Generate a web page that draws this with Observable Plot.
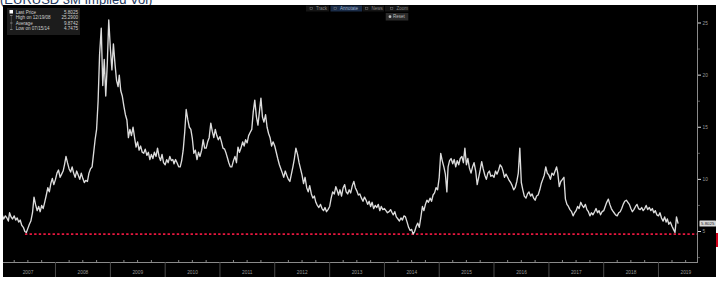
<!DOCTYPE html>
<html><head><meta charset="utf-8">
<script src="https://cdn.jsdelivr.net/npm/d3@7"></script>
<script src="https://cdn.jsdelivr.net/npm/@observablehq/plot@0.6"></script>
<style>
html,body{margin:0;padding:0;background:#fff;width:727px;height:284px;overflow:hidden;font-family:"Liberation Sans",Arial,sans-serif}
#wrap{position:relative;width:727px;height:284px;overflow:hidden}
#title{position:absolute;left:0;top:-7px;font-size:13px;line-height:13px;color:#24385e;white-space:nowrap}
#chart{position:absolute;left:3px;top:5px;width:713px;height:272px}
#overlay{position:absolute;left:0;top:0;pointer-events:none}
</style></head><body>
<div id="wrap">
  <div id="title">(EURUSD 3M Implied Vol)</div>
  <div id="chart"></div>
  <svg id="overlay" width="727" height="284"></svg>
</div>
<script>
// ---- data: EURUSD 3M implied vol, sampled on the 1st, 11th and 21st of each month ----
const sampleDays = [1, 11, 21];
const y2007 = [6.4,6.6,6.2, 6.5,6.3,6.0, 6.8,6.4,6.2, 6.5,6.1,6.3, 5.9,6.1,5.6, 5.4,5.0,4.9, 5.3,5.7,6.0, 6.8,8.3,7.6, 7.0,7.4,6.9, 7.5,7.2,7.8, 8.5,9.2,8.8, 9.6,10.1,9.5];
const y2008 = [10.0,10.6,10.9, 10.2,10.5,10.8, 11.4,12.2,11.6, 11.0,10.7,11.2, 10.6,10.2,10.8, 10.4,10.0,10.6, 10.1,9.7,9.9, 9.8,10.6,11.0, 11.2,12.5,13.8, 14.8,17.5,22.0, 24.5,19.0,21.5, 18.0,21.0,25.29];
const y2009 = [22.5,20.5,23.0, 21.0,19.5,18.9, 20.0,18.5,18.0, 17.0,16.2,15.7, 14.0,14.8,14.2, 15.0,14.0,13.1, 13.6,12.8,13.2, 12.6,12.5,12.9, 12.3,12.6,11.9, 12.4,12.0,12.6, 12.2,13.0,12.2, 11.8,12.4,11.6];
const y2010 = [11.4,11.9,11.6, 12.2,11.8,11.9, 11.5,11.9,11.6, 11.2,11.2,11.8, 12.8,14.5,16.7, 15.7,15.0,14.8, 13.9,12.5,12.8, 11.9,12.6,12.2, 12.8,13.8,13.0, 13.0,13.6,14.0, 15.4,14.6,14.0, 14.8,14.2,13.8];
const y2011 = [14.1,13.6,13.0, 12.9,12.5,12.0, 11.6,11.2,11.2, 11.8,12.2,11.6, 13.1,12.6,13.0, 13.6,13.2,13.8, 13.5,14.2,14.5, 14.8,16.5,17.6, 16.0,15.2,16.5, 17.8,16.0,15.5, 16.2,15.0,14.4, 14.0,13.2,13.6];
const y2012 = [13.2,12.6,12.0, 11.4,11.0,10.6, 10.2,10.8,10.4, 10.0,9.8,10.5, 11.2,12.0,13.0, 12.4,11.6,11.0, 10.4,9.6,10.2, 9.2,8.8,9.4, 8.6,8.2,8.4, 7.8,7.5,7.3, 7.6,7.2,7.0, 7.3,6.9,7.1];
const y2013 = [7.4,8.2,8.8, 8.6,9.3,8.9, 8.5,9.0,8.4, 9.2,9.5,8.8, 8.6,9.0,8.7, 9.4,9.8,9.2, 8.9,8.5,8.6, 8.2,7.9,8.3, 8.0,7.6,7.9, 7.4,7.8,7.2, 7.5,7.3,7.6, 7.0,7.4,7.1];
const y2014 = [7.2,7.0,6.8, 6.9,7.1,6.8, 6.6,6.9,6.4, 6.2,6.0,6.3, 6.1,6.5,6.4, 5.9,5.4,5.1, 5.2,4.7475,5.0, 5.5,5.8,5.4, 6.4,7.4,7.0, 7.6,8.0,7.8, 8.2,7.9,8.5, 8.7,9.2,9.0];
const y2015 = [10.2,12.5,11.8, 11.2,10.5,8.8, 11.2,11.8,12.0, 11.5,11.9,11.2, 11.8,11.4,12.0, 12.2,11.6,13.0, 11.4,12.0,11.1, 10.6,11.2,11.6, 10.8,9.5,10.2, 10.9,11.7,11.0, 10.4,10.0,10.6, 10.8,10.3,10.4];
const y2016 = [10.2,10.8,10.5, 10.9,11.4,11.2, 10.8,10.2,10.5, 10.2,9.9,9.7, 9.4,9.0,9.2, 9.8,10.6,13.0, 9.7,9.0,8.4, 8.2,8.6,8.8, 8.4,8.6,8.2, 8.0,8.4,8.5, 9.0,9.6,10.0, 10.4,11.2,10.6];
const y2017 = [10.4,10.0,10.6, 10.4,10.8,11.2, 10.6,9.3,9.8, 10.0,10.2,8.1, 7.6,7.4,7.1, 6.9,6.5,6.8, 7.0,7.4,7.2, 7.8,7.5,7.3, 7.6,7.1,6.9, 6.5,6.8,6.6, 6.9,7.2,6.8, 7.0,6.6,6.9];
const y2018 = [7.0,7.4,7.8, 8.1,7.6,7.2, 7.0,6.8,6.6, 6.5,6.8,6.9, 7.2,7.6,7.9, 8.0,7.8,7.6, 7.2,6.9,7.1, 7.4,7.6,7.2, 7.1,7.3,7.0, 7.2,7.5,7.1, 7.3,7.0,7.2, 6.8,7.0,6.6];
const y2019 = [6.5,6.8,6.3, 6.0,6.4,5.9, 6.2,5.7,5.9, 5.5,5.2,4.9, 6.4,5.8025];

// legend / statistics
const legendLabels = ["Last Price", "High on 12/19/08", "Average", "Low on 07/15/14"];
const legendValues = ["5.8025", "25.2900", "9.8742", "4.7475"];
const lastPrice = 5.8025;
const lowValue = 4.7475;
const lowLineStart = "2007-06-15";

// tick labels
const yTicks = [5, 10, 15, 20, 25];
const yMinorTicks = [2.5, 7.5, 12.5, 17.5, 22.5];
const yearLabels = [2007, 2008, 2009, 2010, 2011, 2012, 2013, 2014, 2015, 2016, 2017, 2018, 2019];
const toolbarButtons = ["Track", "Annotate", "News", "Zoom"];

// ---- build table ----
const seriesByYear = [[2007,y2007],[2008,y2008],[2009,y2009],[2010,y2010],[2011,y2011],[2012,y2012],[2013,y2013],[2014,y2014],[2015,y2015],[2016,y2016],[2017,y2017],[2018,y2018],[2019,y2019]];
const data = seriesByYear.flatMap(([yr, vals]) => vals.map((v, i) => ({
  date: new Date(Date.UTC(yr, Math.floor(i / 3), sampleDays[i % 3])), value: v
})));

const xStart = new Date(Date.UTC(2007, 0, 1));
const xEnd = new Date(Date.UTC(2019, 8, 18));
const yearStarts = yearLabels.slice(1).map(y => new Date(Date.UTC(y, 0, 1)));
const yearMids = yearLabels.map(y => new Date(Date.UTC(y, 6, 2)));
const quarterDates = yearLabels.flatMap(y => [3, 6, 9].map(m => new Date(Date.UTC(y, m, 1)))).filter(d => d < xEnd);

const chart = Plot.plot({
  width: 713, height: 272,
  marginTop: 0, marginRight: 19, marginBottom: 15, marginLeft: 0,
  style: {background: "#000", color: "#999", fontFamily: "Liberation Sans, Arial, sans-serif", fontSize: "4.8px", overflow: "hidden"},
  x: {type: "utc", domain: [xStart, xEnd], range: [-2.8, 694]},
  y: {type: "linear", domain: [5, 25], range: [226, 17.5]},
  marks: [
    Plot.frame({anchor: "bottom", stroke: "#8a8a8a"}),
    Plot.ruleX([xEnd], {stroke: "#8a8a8a"}),
    Plot.axisX(yearStarts, {anchor: "bottom", tickSize: 15, tickFormat: () => "", color: "#4a4a4a", label: null}),
    Plot.axisX(quarterDates, {anchor: "bottom", tickSize: -2, tickFormat: () => "", color: "#888", label: null}),
    Plot.axisX(yearMids, {anchor: "bottom", tickSize: 0, tickPadding: 8, tickFormat: d => String(d.getUTCFullYear()), color: "#9a9a9a", label: null}),
    Plot.axisY(yMinorTicks, {anchor: "right", tickSize: 2, tickFormat: () => "", color: "#555", label: null}),
    Plot.axisY(yTicks, {anchor: "right", tickSize: 3, tickFormat: () => "", color: "#ddd", label: null}),
    Plot.axisY(yTicks, {anchor: "right", tickSize: 0, tickPadding: 5, color: "#9a9a9a", label: null}),
    Plot.ruleY([lowValue], {x1: new Date(lowLineStart), x2: xEnd, stroke: "#e8173f", strokeWidth: 1.6, strokeDasharray: "2.4,2.2"}),
    Plot.lineY(data, {x: "date", y: "value", stroke: "#dcdcdc", strokeWidth: 1.35})
  ]
});
document.getElementById("chart").appendChild(chart);

// ---- overlay: legend, toolbar, last-price tag ----
const ov = d3.select("#overlay");
const f = "Liberation Sans, Arial, sans-serif";
// legend box
ov.append("rect").attr("x", 7).attr("y", 8).attr("width", 73).attr("height", 27).attr("fill", "#1c1c1c");
const rowBase = [13.7, 18.8, 24.6, 30.0];
legendLabels.forEach((t, i) => {
  ov.append("text").attr("x", 15.7).attr("y", rowBase[i]).attr("font-family", f).attr("font-size", 4.6).attr("fill", "#cfcfcf").text(t);
  ov.append("text").attr("x", 78).attr("y", rowBase[i]).attr("text-anchor", "end").attr("font-family", f).attr("font-size", 4.6).attr("fill", "#cfcfcf").text(legendValues[i]);
});
ov.append("rect").attr("x", 9.5).attr("y", 10).attr("width", 3.5).attr("height", 3.5).attr("fill", "#fff");
ov.append("line").attr("x1", 11.3).attr("x2", 11.3).attr("y1", 15).attr("y2", 29.5).attr("stroke", "#777").attr("stroke-width", 0.5);
ov.append("line").attr("x1", 10).attr("x2", 12.6).attr("y1", 15.5).attr("y2", 15.5).attr("stroke", "#aaa").attr("stroke-width", 0.6);
ov.append("line").attr("x1", 10).attr("x2", 12.6).attr("y1", 23).attr("y2", 23).attr("stroke", "#aaa").attr("stroke-width", 0.6);
ov.append("line").attr("x1", 10).attr("x2", 12.6).attr("y1", 29.5).attr("y2", 29.5).attr("stroke", "#aaa").attr("stroke-width", 0.6);

// toolbar
const btn = [
  {x: 306, w: 23, tx: 316, bg: "#141414"},
  {x: 330.5, w: 31.5, tx: 340, bg: "#1a2c48"},
  {x: 362.5, w: 21.5, tx: 371.5, bg: "#141414"},
  {x: 385, w: 23.5, tx: 396.5, bg: "#141414"}
];
toolbarButtons.forEach((t, i) => {
  const b = btn[i];
  ov.append("rect").attr("x", b.x).attr("y", 5.5).attr("width", b.w).attr("height", 6).attr("fill", b.bg);
  ov.append("rect").attr("x", b.tx - 6).attr("y", 7.3).attr("width", 2.4).attr("height", 2.4).attr("fill", "none").attr("stroke", "#777").attr("stroke-width", 0.5);
  ov.append("text").attr("x", b.tx).attr("y", 10.2).attr("font-family", f).attr("font-size", 4.5).attr("fill", i === 1 ? "#9fb3cc" : "#8a8a8a").text(t);
});
ov.append("rect").attr("x", 385.7).attr("y", 13).attr("width", 22.6).attr("height", 7.5).attr("fill", "#2a2a2a");
ov.append("circle").attr("cx", 390).attr("cy", 16.7).attr("r", 1.4).attr("fill", "#bbb");
ov.append("text").attr("x", 393).attr("y", 18.3).attr("font-family", f).attr("font-size", 4.5).attr("fill", "#bbb").text("Reset");

// last price tag
ov.append("rect").attr("x", 699.5).attr("y", 220.5).attr("width", 16.5).attr("height", 6).attr("fill", "#d9d9d9").attr("rx", 0.6);
ov.append("text").attr("x", 707.7).attr("y", 225.2).attr("text-anchor", "middle").attr("font-family", f).attr("font-size", 4.4).attr("fill", "#222").text(String(lastPrice.toFixed(4)));
// right-edge red marker
ov.append("rect").attr("x", 716).attr("y", 233).attr("width", 2).attr("height", 14).attr("fill", "#d0021b");
</script>
</body></html>
